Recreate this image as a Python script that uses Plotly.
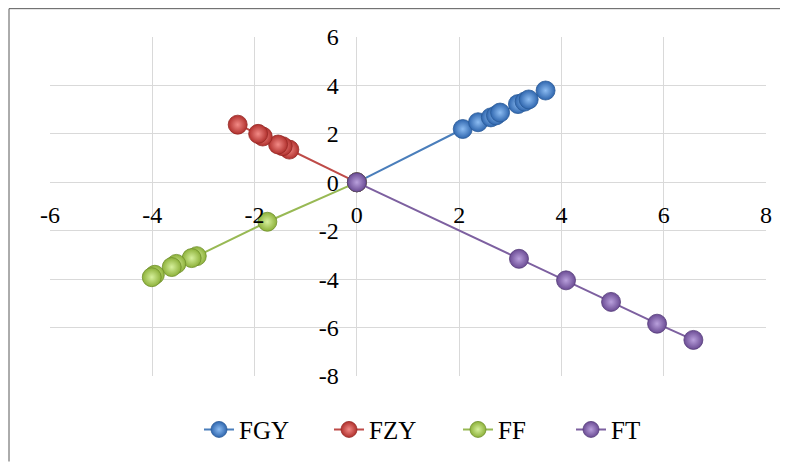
import plotly.graph_objects as go

# Data (each series starts at the origin)
fgy_x = [0, 2.07, 2.37, 2.62, 2.72, 2.80, 3.15, 3.28, 3.36, 3.69]
fgy_y = [0, 2.20, 2.48, 2.68, 2.76, 2.88, 3.23, 3.33, 3.42, 3.79]

fzy_x = [0, -1.32, -1.45, -1.54, -1.84, -1.93, -2.33]
fzy_y = [0, 1.35, 1.49, 1.56, 1.89, 2.00, 2.38]

ff_x = [0, -1.75, -3.13, -3.23, -3.53, -3.62, -3.95, -4.01]
ff_y = [0, -1.63, -3.05, -3.13, -3.37, -3.50, -3.82, -3.92]

ft_x = [0, 3.17, 4.09, 4.97, 5.87, 6.58]
ft_y = [0, -3.16, -4.05, -4.94, -5.84, -6.51]

series_names = ["FGY", "FZY", "FF", "FT"]
x_tick_vals = [-6, -4, -2, 0, 2, 4, 6, 8]
y_tick_vals = [-8, -6, -4, -2, 0, 2, 4, 6]

styles = {
    "FGY": dict(line="#4A7EBB", light="#8CBCF2", dark="#2F66AE", edge="#2A5A98"),
    "FZY": dict(line="#BE4B48", light="#F28A86", dark="#B0302D", edge="#962825"),
    "FF": dict(line="#98B954", light="#D6F09C", dark="#8DB13A", edge="#6F8F2B"),
    "FT": dict(line="#7D60A0", light="#B9A0DC", dark="#6B4C94", edge="#553C7A"),
}

data = {"FGY": (fgy_x, fgy_y), "FZY": (fzy_x, fzy_y), "FF": (ff_x, ff_y), "FT": (ft_x, ft_y)}

# The page body adds an 8px offset; margins compensate for it
W, H = 780, 457
ML, MR, MT, MB = 42, 22, 29, 87
PW, PH = W - ML - MR, H - MT - MB

font_family = '"Liberation Serif", "Times New Roman", Times, serif'

legend_ids = ["legend", "legend2", "legend3", "legend4"]
legend_left_px = [191, 321, 450, 563]  # figure pixel positions of each legend entry

fig = go.Figure()
for name, lid in zip(series_names, legend_ids):
    xs, ys = data[name]
    s = styles[name]
    fig.add_trace(go.Scatter(
        x=xs, y=ys, name=name, mode="lines+markers", legend=lid,
        line=dict(color=s["line"], width=2),
        marker=dict(size=19, color=s["dark"],
                    gradient=dict(type="radial", color=s["light"]),
                    line=dict(color=s["edge"], width=0.8)),
    ))

legend_y = (PH - (424 - MT)) / PH
legend_layouts = {}
for lid, lx in zip(legend_ids, legend_left_px):
    legend_layouts[lid] = dict(
        orientation="h", x=(lx - ML) / PW, xanchor="left", y=legend_y, yanchor="middle",
        font=dict(family=font_family, size=25, color="black"),
        bgcolor="rgba(0,0,0,0)", borderwidth=0,
    )

fig.update_layout(
    width=W, height=H,
    margin=dict(l=ML, r=MR, t=MT, b=MB),
    paper_bgcolor="white", plot_bgcolor="white",
    font=dict(family=font_family, size=24, color="black"),
    showlegend=True,
    xaxis=dict(range=[-6, 8], tickvals=x_tick_vals, ticktext=[str(v) for v in x_tick_vals],
               showgrid=True, gridcolor="#D9D9D9", gridwidth=1,
               zeroline=True, zerolinecolor="#D9D9D9", zerolinewidth=1,
               showline=False, ticks="", anchor="free", position=8/14,
               ticklabelstandoff=16, automargin=False,
               tickfont=dict(family=font_family, size=24, color="black")),
    yaxis=dict(range=[-8, 6], tickvals=y_tick_vals, ticktext=[str(v) for v in y_tick_vals],
               showgrid=True, gridcolor="#D9D9D9", gridwidth=1,
               zeroline=True, zerolinecolor="#D9D9D9", zerolinewidth=1,
               showline=False, ticks="", anchor="free", position=6/14,
               ticklabelstandoff=18, automargin=False,
               tickfont=dict(family=font_family, size=24, color="black")),
    **legend_layouts,
)

# outer chart border (only top and left edges are visible in the reference)
bx = (1 - ML) / PW
by = 1 + (MT - 0.5) / PH
fig.add_shape(type="line", xref="paper", yref="paper",
              x0=bx, x1=1 + (MR - 1) / PW, y0=by, y1=by,
              line=dict(color="#595959", width=1))
fig.add_shape(type="line", xref="paper", yref="paper",
              x0=bx, x1=bx, y0=by, y1=-(MB - 1) / PH,
              line=dict(color="#595959", width=1))

fig.write_html("out.html")
